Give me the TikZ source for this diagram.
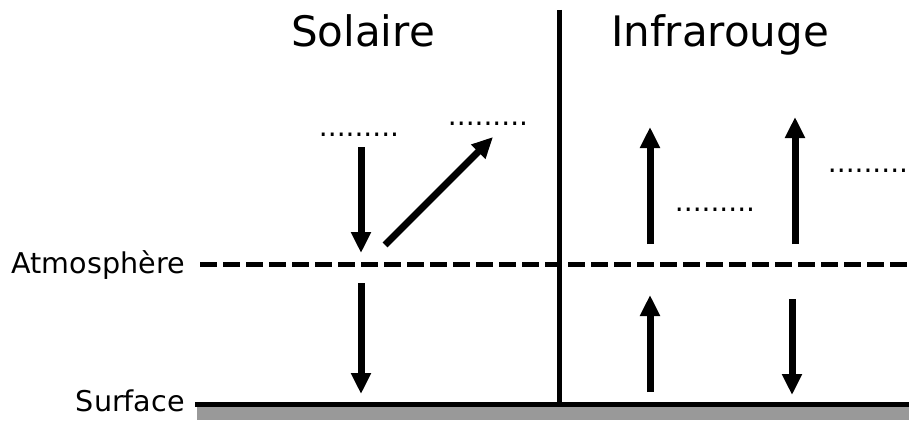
\documentclass[tikz,border=0pt]{standalone}
\usepackage{fontspec}
\setmainfont{DejaVu Sans}
\usetikzlibrary{arrows.meta}
\begin{document}
\begin{tikzpicture}[x=1pt,y=-1pt,
  flux/.style={line width=7pt,-{Triangle[length=21pt,width=19pt]}},
  title/.style={font=\fontsize{42}{50}\selectfont,anchor=base,inner sep=0pt},
  lbl/.style={font=\fontsize{28.6}{34}\selectfont,anchor=base east,inner sep=0pt},
  dots/.style={font=\fontsize{28}{34}\selectfont,anchor=base,inner sep=0pt}]
\useasboundingbox (0,0) rectangle (909,420);
% surface
\fill[fill={rgb,255:red,153;green,153;blue,153}] (197,406) rectangle (909,420);
\coordinate (s0) at (195,404);
\coordinate (s1) at (909,404);
\draw[line width=5pt] (s0) -- (s1);
% atmosphere
\coordinate (a0) at (200,264.5);
\coordinate (a1) at (909,264.5);
\draw[line width=5.5pt,dash pattern=on 17pt off 6pt] (a0) -- (a1);
% separator
\coordinate (v0) at (559.5,10);
\coordinate (v1) at (559.5,404);
\draw[line width=5pt] (v0) -- (v1);
% labels
\node[title] (sol) at (363,47) {Solaire};
\node[title] (ir) at (720,47) {Infrarouge};
\node[lbl] (atm) at (185,273) {Atmosphère};
\node[lbl] (surf) at (185,411) {Surface};
\node[dots] (d1) at (359,136) {.........};
\node[dots] (d2) at (488,125) {.........};
\node[dots] (d3) at (715,211) {.........};
\node[dots] (d4) at (868,172) {.........};
% solar arrows
\coordinate (p1) at (361,147); \coordinate (p2) at (361,253);
\draw[flux] (p1) -- (p2);
\coordinate (p3) at (385,245); \coordinate (p4) at (493,137);
\draw[flux] (p3) -- (p4);
\coordinate (p5) at (361,283); \coordinate (p6) at (361,394);
\draw[flux] (p5) -- (p6);
% infrared arrows
\coordinate (q1) at (650,244); \coordinate (q2) at (650,127);
\draw[flux] (q1) -- (q2);
\coordinate (q3) at (795,244); \coordinate (q4) at (795,117);
\draw[flux] (q3) -- (q4);
\coordinate (q5) at (650,392); \coordinate (q6) at (650,295);
\draw[flux] (q5) -- (q6);
\coordinate (q7) at (792,299); \coordinate (q8) at (792,395);
\draw[flux] (q7) -- (q8);
\end{tikzpicture}
\end{document}
